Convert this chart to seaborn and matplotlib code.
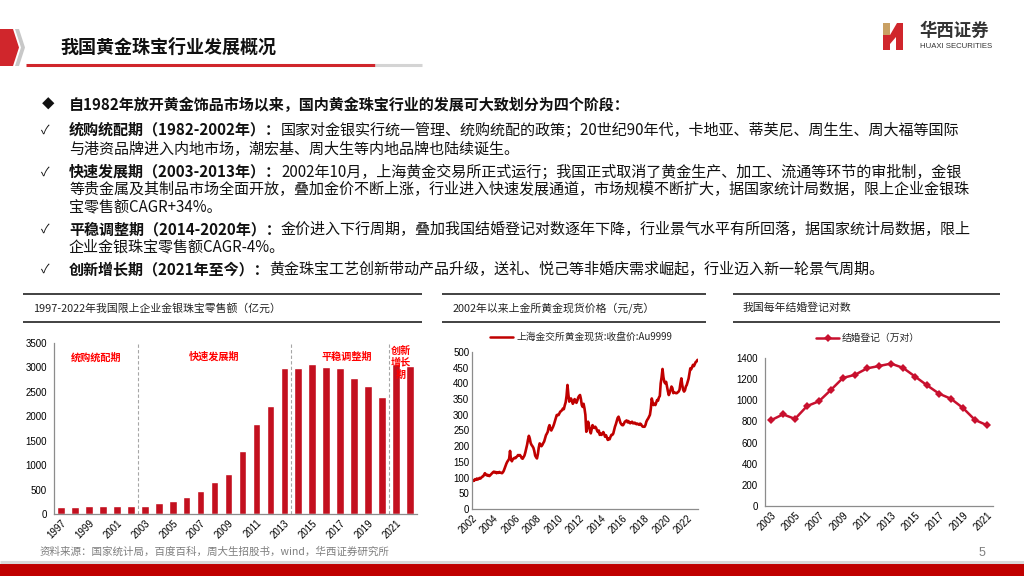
import numpy as np
import pandas as pd
import matplotlib
matplotlib.use('Agg')
import matplotlib.pyplot as plt
import matplotlib.dates as mdates
from matplotlib.patches import Polygon
from matplotlib.lines import Line2D
import seaborn as sns

sns.set_theme(style='white')
plt.rcParams['font.family'] = ['Noto Sans CJK SC', 'DejaVu Sans']
plt.rcParams['axes.unicode_minus'] = False

# ---------------- data ----------------
retail_years = list(range(1997, 2023))
retail_sales = [150, 150, 160, 160, 155, 160, 170, 220, 265, 340, 480, 650, 820,
                1280, 1850, 2220, 2980, 2990, 3080, 3010, 2990, 2780, 2620, 2390,
                3060, 3030]
stage_names = ['统购统配期', '快速发展期', '平稳调整期', '创新\n增长\n期']

gold_price = [
    88, 92, 90, 95, 93, 97, 94, 96, 99, 97, 100, 103,
    104, 109, 114, 110, 107, 109, 106, 105, 108, 111, 114, 117,
    119, 116, 118, 114, 117, 115, 118, 116, 115, 114, 117, 122,
    130, 138, 145, 151, 155, 160, 185, 158, 152, 158, 161, 163,
    162, 165, 168, 172, 170, 172, 168, 162, 160, 165, 170, 180,
    193, 205, 220, 233, 225, 210, 204, 200, 195, 185, 170, 165,
    161, 175, 195, 209, 205, 200, 204, 210, 215, 225, 235, 240,
    246, 260, 267, 255, 250, 256, 262, 270, 280, 290, 299, 300,
    299, 305, 310, 312, 315, 320, 318, 330, 340, 360, 395, 365,
    342, 350, 352, 345, 335, 340, 350, 345, 338, 345, 355, 360,
    363, 350, 331, 325, 335, 320, 300, 246, 260, 278, 265, 250,
    241, 255, 267, 260, 258, 262, 258, 250, 245, 250, 236, 240,
    236, 241, 245, 238, 230, 235, 228, 220, 225, 222, 230, 236,
    236, 240, 250, 262, 270, 280, 290, 294, 285, 275, 270, 267,
    267, 272, 278, 280, 282, 276, 280, 275, 273, 276, 278, 273,
    273, 275, 272, 270, 272, 270, 268, 272, 270, 265, 262, 262,
    262, 268, 278, 284, 288, 294, 300, 320, 352, 340, 331, 335,
    331, 340, 347, 345, 355, 360, 400, 420, 446, 420, 405, 400,
    405, 390, 375, 363, 370, 380, 390, 385, 369, 372, 370, 369,
    369, 372, 374, 380, 400, 416, 395, 380, 374, 378, 390, 395,
    405, 415, 430, 448, 445, 452, 459, 455, 462, 468, 470, 475,
]
gold_dates = pd.date_range('2002-01-01', periods=len(gold_price), freq='MS') + pd.Timedelta(days=14)
gold_label = '上海金交所黄金现货:收盘价:Au9999'

marriage_years = list(range(2003, 2022))
marriage_pairs = [811, 867, 824, 945, 991, 1099, 1212, 1241, 1302, 1324, 1347,
                  1307, 1225, 1142, 1063, 1014, 927, 814, 764]
marriage_label = '结婚登记（万对）'

title = '我国黄金珠宝行业发展概况'
chart_titles = ['1997-2022年我国限上企业金银珠宝零售额（亿元）',
                '2002年以来上金所黄金现货价格（元/克）',
                '我国每年结婚登记对数']
source = '资料来源：国家统计局，百度百科，周大生招股书，wind，华西证券研究所'

bullet_head = '自1982年放开黄金饰品市场以来，国内黄金珠宝行业的发展可大致划分为四个阶段：'
bullets = [
    ('✓', '统购统配期（1982-2002年）：', '国家对金银实行统一管理、统购统配的政策；20世纪90年代，卡地亚、蒂芙尼、周生生、周大福等国际'),
    ('', '', '与港资品牌进入内地市场，潮宏基、周大生等内地品牌也陆续诞生。'),
    ('✓', '快速发展期（2003-2013年）：', '2002年10月，上海黄金交易所正式运行；我国正式取消了黄金生产、加工、流通等环节的审批制，金银'),
    ('', '', '等贵金属及其制品市场全面开放，叠加金价不断上涨，行业进入快速发展通道，市场规模不断扩大，据国家统计局数据，限上企业金银珠'),
    ('', '', '宝零售额CAGR+34%。'),
    ('✓', '平稳调整期（2014-2020年）：', '金价进入下行周期，叠加我国结婚登记对数逐年下降，行业景气水平有所回落，据国家统计局数据，限上'),
    ('', '', '企业金银珠宝零售额CAGR-4%。'),
    ('✓', '创新增长期（2021年至今）：', '黄金珠宝工艺创新带动产品升级，送礼、悦己等非婚庆需求崛起，行业迈入新一轮景气周期。'),
]

# ---------------- figure ----------------
W, H = 1024, 576
fig = plt.figure(figsize=(W / 100, H / 100), dpi=100)
fig.patch.set_facecolor('white')


def fx(x):
    return x / W


def fy(y):
    return 1 - y / H


def fig_line(x0, x1, y, color, lw):
    fig.add_artist(Line2D([fx(x0), fx(x1)], [fy(y), fy(y)], color=color, lw=lw,
                          transform=fig.transFigure, solid_capstyle='butt'))


def fig_poly(pts, color):
    fig.add_artist(Polygon([(fx(a), fy(b)) for a, b in pts], closed=True, facecolor=color,
                           edgecolor='none', transform=fig.transFigure))


RED = '#C00000'
BAR = '#C3101F'
TICKFONT = 'Liberation Sans'

# header decoration
fig_poly([(0, 29), (13, 29), (19, 47.5), (13, 66), (0, 66)], '#D0262C')
fig_poly([(15, 29), (19, 29), (25, 47.5), (19, 66), (15, 66), (21, 47.5)], '#C8C8C8')
fig_line(26, 375, 65, '#D0262C', 2.2)
fig_line(375, 422, 65, '#D4D4D4', 2.2)
fig.text(fx(60), fy(47), title, fontsize=13, fontweight='bold', color='#111111',
         ha='left', va='center')

# logo
fig_poly([(883, 23), (890, 23), (890, 35), (883, 35)], '#C9A063')
fig_poly([(883, 35), (890, 35), (897, 23), (903, 23), (903, 50), (896, 50), (896, 37),
          (890, 44), (890, 50), (883, 50)], '#D0262C')
fig.text(fx(919), fy(31), '华西证券', fontsize=12.5, color='#333333', ha='left', va='center',
         fontweight='bold')
fig.text(fx(920), fy(47), 'HUAXI SECURITIES', fontsize=5.6, color='#333333', ha='left',
         va='center', family=TICKFONT)

# footer
fig_line(0, W, 561.5, '#D9D9D9', 2.2)
fig.add_artist(plt.Rectangle((0, 0), 1, fy(563.5), facecolor=RED, edgecolor='none',
                             transform=fig.transFigure))
fig.text(fx(982), fy(553), '5', fontsize=9, color='#7F7F7F', ha='center', va='center',
         family=TICKFONT)
fig.text(fx(40), fy(552), source, fontsize=7.6, color='#7F7F7F', ha='left', va='center')

# bullet text
FS = 10.85
renderer = fig.canvas.get_renderer()
fig.text(fx(48), fy(105), '◆', fontsize=9, ha='center', va='center', color='#111111')
fig.text(fx(69), fy(105), bullet_head, fontsize=FS, fontweight='bold', ha='left', va='center',
         color='#111111')
line_y = [130, 149, 172, 190, 207, 229, 247, 269]
for (mark, bold, normal), yy in zip(bullets, line_y):
    x0 = fx(69)
    if mark:
        fig.text(fx(45), fy(yy), mark, fontsize=9, ha='center', va='center', color='#111111')
    if bold:
        t = fig.text(x0, fy(yy), bold, fontsize=FS, fontweight='bold', ha='left', va='center',
                     color='#111111')
        x0 = t.get_window_extent(renderer).x1 / W
    fig.text(x0, fy(yy), normal, fontsize=FS, ha='left', va='center', color='#111111')

# panel title frames
for (x0, x1), ttl, tx in zip([(23, 422), (442, 706), (733, 1000)], chart_titles, [33, 453, 743]):
    fig_line(x0, x1, 294, '#333333', 1.3)
    fig_line(x0, x1, 321.5, '#333333', 1.3)
    fig.text(fx(tx), fy(308), ttl, fontsize=7.8, color='#222222', ha='left', va='center')


def style_axis(ax):
    sns.despine(ax=ax)
    for s in ('left', 'bottom'):
        ax.spines[s].set_color('#8C8C8C')
        ax.spines[s].set_linewidth(0.9)
    ax.tick_params(axis='both', labelsize=7, colors='#8C8C8C', labelcolor='black', width=0.8)
    for lab in ax.get_xticklabels() + ax.get_yticklabels():
        lab.set_fontfamily(TICKFONT)


def rotate_labels(ax):
    for lab in ax.get_xticklabels():
        lab.set_rotation(45)
        lab.set_ha('right')
        lab.set_rotation_mode('anchor')
        lab.set_fontfamily(TICKFONT)


# ---------------- chart 1: bars ----------------
ax1 = fig.add_axes([fx(54), fy(514), (417 - 54) / W, (514 - 343) / H])
df1 = pd.DataFrame({'year': [str(y) for y in retail_years], 'sales': retail_sales})
sns.barplot(data=df1, x='year', y='sales', color=BAR, saturation=1, width=0.55, ax=ax1)
ax1.set_xlim(-0.5, len(retail_years) - 0.5)
ax1.set_ylim(0, 3500)
ax1.set_yticks(range(0, 3501, 500))
ax1.set_xticks(range(len(retail_years)))
ax1.set_xticklabels([str(y) if (y - retail_years[0]) % 2 == 0 else '' for y in retail_years])
ax1.set_xlabel('')
ax1.set_ylabel('')
style_axis(ax1)
ax1.tick_params(axis='x', length=0, pad=3)
ax1.tick_params(axis='y', length=3, direction='out', pad=2)
ax1.set_xticks(np.arange(-0.5, len(retail_years), 1), minor=True)
ax1.tick_params(axis='x', which='minor', length=2, direction='out', color='#8C8C8C', width=0.8)
rotate_labels(ax1)
for b in [5.5, 16.5, 23.5]:
    ax1.plot([b, b], [0, 3500], ls=(0, (3, 2)), color='#A6A6A6', lw=0.8, clip_on=False)
for name, xpos in zip(stage_names, [2.5, 11, 20.5, 24.35]):
    ax1.text(xpos, 3090 if '\n' in name else 3210, name, color='#FF0000', fontsize=7.3,
             fontweight='bold', ha='center', va='center', linespacing=1.2)

# ---------------- chart 2: gold line ----------------
ax2 = fig.add_axes([fx(472), fy(509), (698 - 472) / W, (509 - 352) / H])
df2 = pd.DataFrame({'date': gold_dates, 'price': gold_price})
sns.lineplot(data=df2, x='date', y='price', color=RED, lw=1.9, ax=ax2)
ax2.set_xlim(pd.Timestamp('2002-01-01'), pd.Timestamp('2023-01-01'))
ax2.set_ylim(0, 500)
ax2.set_yticks(range(0, 501, 50))
ax2.xaxis.set_major_locator(mdates.YearLocator(2))
ax2.xaxis.set_major_formatter(mdates.DateFormatter('%Y'))
ax2.set_xlabel('')
ax2.set_ylabel('')
style_axis(ax2)
ax2.tick_params(axis='x', length=3, direction='in', pad=3)
ax2.tick_params(axis='y', length=3, direction='in', pad=2)
rotate_labels(ax2)
ax2.legend(handles=[Line2D([], [], color=RED, lw=1.8)], labels=[gold_label],
           loc='center', bbox_to_anchor=(fx(581), fy(337)), bbox_transform=fig.transFigure,
           frameon=False, fontsize=7, handlelength=2.4, handletextpad=0.3)

# ---------------- chart 3: marriages ----------------
ax3 = fig.add_axes([fx(765), fy(506), (993 - 765) / W, (506 - 358) / H])
df3 = pd.DataFrame({'year': marriage_years, 'pairs': marriage_pairs})
sns.lineplot(data=df3, x='year', y='pairs', color='#C8102E', lw=1.8, marker='D',
             markersize=4.5, markeredgewidth=0, ax=ax3)
ax3.set_xlim(marriage_years[0] - 0.5, marriage_years[-1] + 0.5)
ax3.set_ylim(0, 1400)
ax3.set_yticks(range(0, 1401, 200))
ax3.set_xticks(marriage_years[::2])
ax3.set_xticklabels([str(y) for y in marriage_years[::2]])
ax3.set_xlabel('')
ax3.set_ylabel('')
style_axis(ax3)
ax3.tick_params(axis='x', length=0, pad=3)
ax3.set_xticks(np.arange(marriage_years[0] + 1.5, marriage_years[-1], 2), minor=True)
ax3.tick_params(axis='x', which='minor', length=3, direction='in', color='#8C8C8C', width=0.8)
ax3.tick_params(axis='y', length=3, direction='out', pad=2)
rotate_labels(ax3)
ax3.legend(handles=[Line2D([], [], color='#C8102E', lw=1.8, marker='D', markersize=4.5,
                           markeredgewidth=0)],
           labels=[marriage_label], loc='center', bbox_to_anchor=(fx(868), fy(338)),
           bbox_transform=fig.transFigure, frameon=False, fontsize=7, handlelength=2.4,
           handletextpad=0.3)

fig.savefig('out.png', dpi=100, facecolor='white')
